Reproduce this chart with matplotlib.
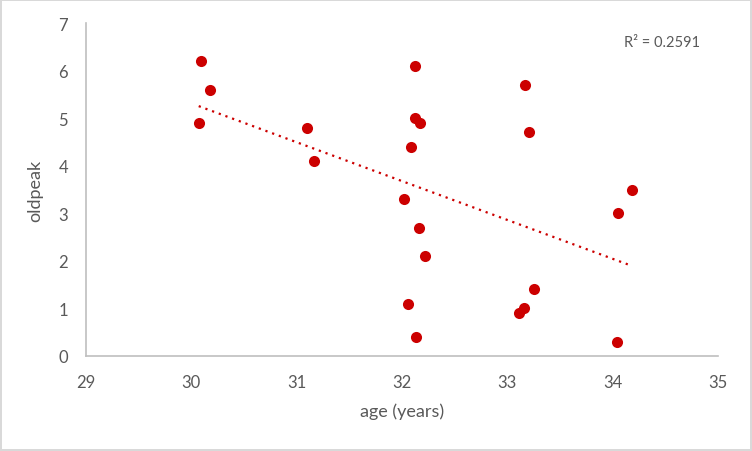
import numpy as np
import matplotlib.pyplot as plt

# data
age = [30.09, 30.18, 30.07, 31.10, 31.16,
       32.12, 32.12, 32.17, 32.09, 32.02, 32.16, 32.22, 32.06, 32.13,
       33.17, 33.21, 34.18, 34.05, 33.25, 33.16, 33.11, 34.04]
oldpeak = [6.2, 5.6, 4.9, 4.8, 4.1,
           6.1, 5.0, 4.9, 4.4, 3.3, 2.7, 2.1, 1.1, 0.4,
           5.7, 4.7, 3.5, 3.0, 1.4, 1.0, 0.9, 0.3]
r2_label = "R² = 0.2591"
xticks = [29, 30, 31, 32, 33, 34, 35]
yticks = [0, 1, 2, 3, 4, 5, 6, 7]

red = '#CC0000'
grey = '#595959'
plt.rcParams['font.family'] = ['Lato', 'DejaVu Sans']

fig = plt.figure(figsize=(7.52, 4.52), dpi=100, facecolor='white',
                 edgecolor='#D9D9D9', linewidth=1.5)
ax = fig.add_axes([86/752, 95/452, 632/752, 333/452])

ax.scatter(age, oldpeak, s=64, color=red, zorder=3, linewidths=0)

# linear trendline
x = np.array(age)
y = np.array(oldpeak)
slope, icpt = np.polyfit(x, y, 1)
xs = np.array([x.min(), x.max()])
ax.plot(xs, slope * xs + icpt, color=red, lw=1.6,
        linestyle=(0, (1, 2.2)), zorder=2)

ax.text(0.851, 0.943, r2_label, transform=ax.transAxes, color=grey,
        fontsize=10.5, va='center', ha='left')

ax.set_xlim(29, 35)
ax.set_ylim(0, 7)
ax.set_xticks(xticks)
ax.set_yticks(yticks)
ax.tick_params(length=0, labelsize=12, labelcolor=grey)
ax.tick_params(axis='x', pad=13)
ax.tick_params(axis='y', pad=13)
for s in ['top', 'right']:
    ax.spines[s].set_visible(False)
for s in ['left', 'bottom']:
    ax.spines[s].set_color('#BFBFBF')
    ax.spines[s].set_linewidth(1.2)

ax.set_xlabel('age (years)', fontsize=13, color=grey, labelpad=9)
ax.set_ylabel('oldpeak', fontsize=13, color=grey, labelpad=11)

fig.savefig('out.png', dpi=100, facecolor='white',
            edgecolor=fig.get_edgecolor())
